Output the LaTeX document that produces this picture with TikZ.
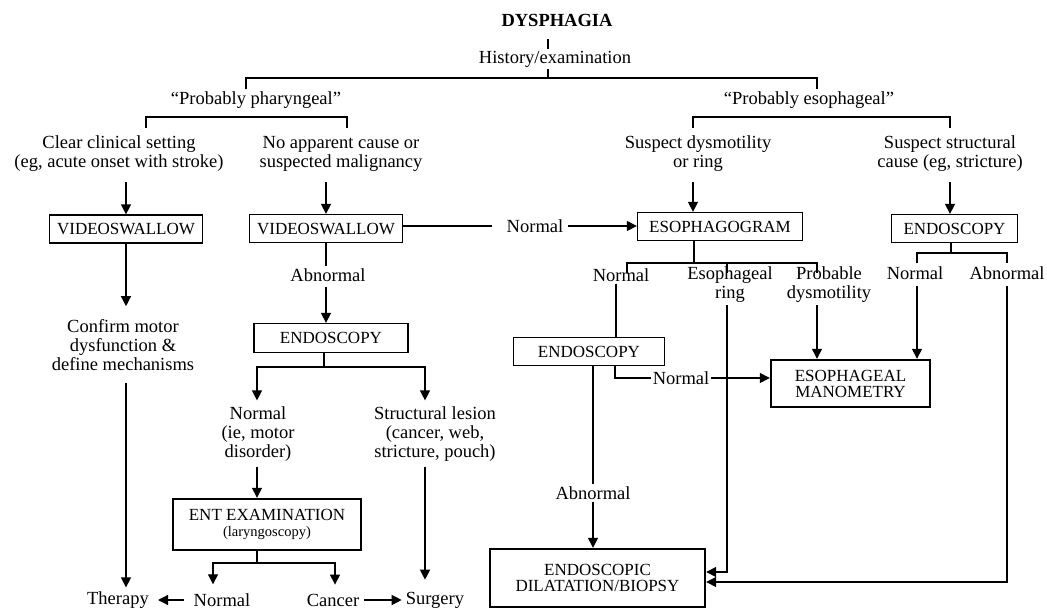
\documentclass[tikz,border=0pt]{standalone}
\usepackage{fontspec}
\setmainfont{Liberation Serif}
\usetikzlibrary{arrows.meta}
\begin{document}
\begin{tikzpicture}[x=1pt,y=-1pt,
  every node/.style={font=\fontsize{18.5}{19}\selectfont},
  txt/.style={align=center, inner sep=2pt},
  box/.style={draw, line width=1.3pt, inner sep=0pt, align=center, font=\fontsize{17}{16}\selectfont},
  bbox/.style={box, line width=2.4pt},
  ln/.style={line width=1.3pt},
  brk/.style={line width=1.6pt},
  arr/.style={ln, -{Triangle[length=10pt,width=10pt]}},
  darr/.style={ln, {Triangle[length=10pt,width=10pt]}-{Triangle[length=10pt,width=10pt]}}
]
\useasboundingbox (0,0) rectangle (1047,610);

% ---------- nodes ----------
\node[txt,font=\fontsize{18.5}{19}\selectfont\bfseries] (title) at (557,20) {DYSPHAGIA};
\node[txt] (hist) at (555,59) {History/examination};
\node[txt] (pph) at (256,100) {“Probably pharyngeal”};
\node[txt] (peso) at (809,100) {“Probably esophageal”};
\node[txt] (clear) at (119,154) {Clear clinical setting\\(eg, acute onset with stroke)};
\node[txt] (noapp) at (341,154) {No apparent cause or\\suspected malignancy};
\node[txt] (susd) at (698,154) {Suspect dysmotility\\or ring};
\node[txt] (suss) at (950,154) {Suspect structural\\cause (eg, stricture)};
\node[box, minimum width=153pt, minimum height=28pt] (vs1) at (126,229) {VIDEOSWALLOW};
\node[box, minimum width=153pt, minimum height=28pt] (vs2) at (326,228.5) {VIDEOSWALLOW};
\node[txt] (nrm1) at (535,226) {Normal};
\node[box, minimum width=165pt, minimum height=28pt] (esog) at (720,226.5) {ESOPHAGOGRAM};
\node[box, minimum width=126pt, minimum height=28pt] (endoR) at (954.5,228.5) {ENDOSCOPY};
\node[txt] (conf) at (123,345) {Confirm motor\\dysfunction \&\\define mechanisms};
\node[txt] (abn1) at (328,275) {Abnormal};
\node[box, minimum width=154pt, minimum height=29pt] (endoL) at (331,338) {ENDOSCOPY};
\node[txt] (nL) at (258,434) {Normal\\(ie, motor\\disorder)};
\node[txt] (struct) at (435,434) {Structural lesion\\(cancer, web,\\stricture, pouch)};
\node[bbox, minimum width=188pt, minimum height=51pt] (ent) at (267,524.5) {ENT EXAMINATION\\{\fontsize{14.5}{15}\selectfont (laryngoscopy)}};
\node[txt] (therapy) at (118,600) {Therapy};
\node[txt] (nrmB) at (222,600) {Normal};
\node[txt] (cancer) at (333,600) {Cancer};
\node[txt] (surgery) at (435,600) {Surgery};
\node[txt] (nE) at (621,275) {Normal};
\node[txt] (ring) at (730,285) {Esophageal\\ring};
\node[txt] (prob) at (829,285) {Probable\\dysmotility};
\node[txt] (nR) at (915,273) {Normal};
\node[txt] (abR) at (1007,273) {Abnormal};
\node[box, minimum width=151pt, minimum height=28pt] (endoM) at (589,351.5) {ENDOSCOPY};
\node[txt] (nM) at (681,378) {Normal};
\node[bbox, minimum width=159pt, minimum height=47pt] (mano) at (850.5,383.5) {ESOPHAGEAL\\MANOMETRY};
\node[txt] (abM) at (593,493) {Abnormal};
\node[bbox, minimum width=215pt, minimum height=58pt] (dil) at (597.5,578) {ENDOSCOPIC\\DILATATION/BIOPSY};

% ---------- coordinates ----------
\coordinate (tx) at (548,0);
\coordinate (b1) at (548,78);
\coordinate (b1l) at (246,78);
\coordinate (b1r) at (817,78);
\coordinate (b2l) at (146,117);
\coordinate (b2r) at (347,117);
\coordinate (b3l) at (693,117);
\coordinate (b3r) at (950,117);
\coordinate (j1) at (324,367);
\coordinate (jl) at (257,367);
\coordinate (jr) at (425,367);
\coordinate (k1) at (257,563);
\coordinate (kl) at (213,563);
\coordinate (kr) at (335,563);
\coordinate (e1) at (694,263);
\coordinate (el) at (627,263);
\coordinate (em) at (727,263);
\coordinate (er) at (817,263);
\coordinate (ex) at (616,0);
\coordinate (mx) at (615,0);
\coordinate (r1) at (951,253);
\coordinate (rl) at (917,253);
\coordinate (rr) at (1007,253);

% ---------- top ----------
\draw[ln] ([yshift=-11pt]title.south -| tx) -- (hist.north -| tx);
\draw[brk] (hist.south -| b1) -- (b1);
\draw[brk] (pph.north -| b1l) -- (b1l) -- (b1r) -- (peso.north -| b1r);
\draw[brk] ([yshift=6pt]clear.north -| b2l) -- (b2l) -- (b2r) -- ([yshift=6pt]noapp.north -| b2r);
\draw[brk] ([yshift=6pt]susd.north -| b3l) -- (b3l) -- (b3r) -- ([yshift=6pt]suss.north -| b3r);

% ---------- left column ----------
\draw[arr] ([yshift=-8pt]clear.south -| vs1.north) -- (vs1.north);
\draw[arr] (vs1.south) -- ([yshift=11pt]conf.north -| vs1.south);
\draw[arr] ([yshift=-10pt]conf.south -| vs1.south) -- ([yshift=2pt]therapy.north -| vs1.south);

% ---------- pharyngeal middle ----------
\draw[arr] ([yshift=-8pt]noapp.south -| vs2.north) -- (vs2.north);
\draw[ln] (vs2.south) -- (abn1.north -| vs2.south);
\draw[arr] ([yshift=-3pt]abn1.south -| vs2.south) -- (endoL.north -| vs2.south);
\draw[ln] (vs2.east |- nrm1) -- ([xshift=-13pt]nrm1.west);
\draw[arr] ([xshift=3pt]nrm1.east) -- (esog.west |- nrm1);
\draw[ln] (endoL.south -| j1) -- (j1);
\draw[darr] ([yshift=4pt]nL.north -| jl) -- (jl) -- (jr) -- ([yshift=4pt]struct.north -| jr);
\draw[arr] ([yshift=-3pt]nL.south -| jl) -- (ent.north -| jl);
\draw[arr] ([yshift=-3pt]struct.south -| jr) -- ([yshift=10pt]surgery.north -| jr);
\draw[ln] (ent.south -| k1) -- (k1);
\draw[darr] ([yshift=7pt]nrmB.north -| kl) -- (kl) -- (kr) -- ([yshift=7pt]cancer.north -| kr);
\draw[arr, shorten <=8pt, shorten >=7pt] (nrmB.west) -- (therapy.east);
\draw[arr, shorten <=3pt, shorten >=2pt] (cancer.east) -- (surgery.west);

% ---------- esophageal ----------
\draw[arr] ([yshift=-8pt]susd.south -| b3l) -- (esog.north -| b3l);
\draw[arr] ([yshift=-8pt]suss.south -| b3r) -- (endoR.north -| b3r);
\draw[ln] (esog.south -| e1) -- (e1);
\draw[ln] ([yshift=-10pt]el) -- (el) -- (er) -- ([yshift=-10pt]er);
\draw[ln] (em) -- ([yshift=-10pt]em);
\draw[ln] (nE.south -| ex) -- (endoM.north -| ex);
\draw[arr] (ring.south -| em) |- ([yshift=6pt]dil.east);
\draw[arr] (prob.south -| er) -- (mano.north -| er);
\draw[ln] (endoM.south -| abM) -- (abM.north);
\draw[arr] (abM.south) -- (dil.north -| abM);
\draw[ln] (endoM.south -| mx) |- (nM.west);
\draw[arr] (nM.east) -- (mano.west |- nM);
\draw[ln] (endoR.south -| r1) -- (r1);
\draw[ln] ([yshift=-10pt]rl) -- (rl) -- (rr) -- ([yshift=-10pt]rr);
\draw[arr] ([yshift=-4pt]nR.south -| rl) -- (mano.north -| rl);
\draw[arr] ([yshift=-4pt]abR.south -| rr) |- ([yshift=-4pt]dil.east);
\end{tikzpicture}
\end{document}
